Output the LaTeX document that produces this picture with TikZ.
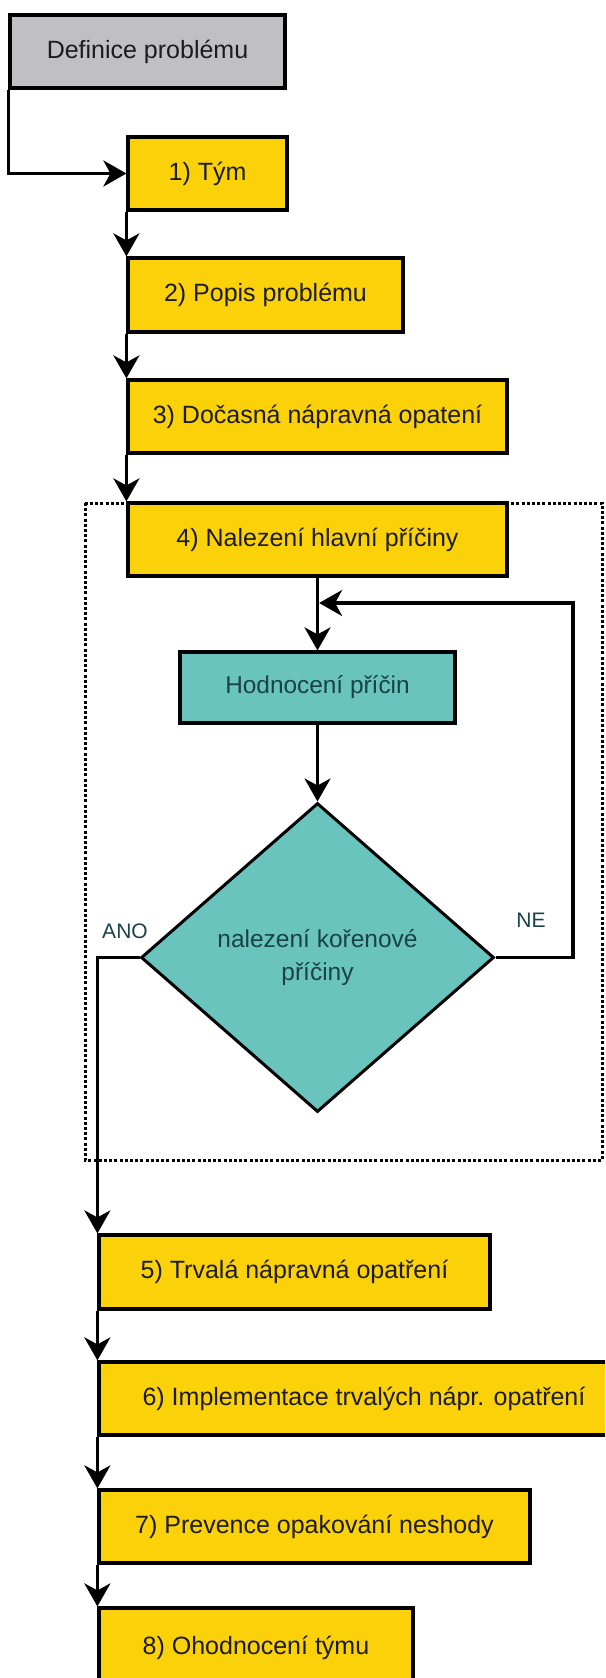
\documentclass[tikz,border=0pt]{standalone}
\usepackage{fontspec}
\setmainfont{Liberation Sans}
\usetikzlibrary{shapes.geometric,arrows.meta}
\definecolor{boxyellow}{RGB}{251,209,10}
\definecolor{boxgray}{RGB}{192,191,194}
\definecolor{boxteal}{RGB}{104,196,188}
\definecolor{inktext}{RGB}{28,28,28}
\definecolor{tealtext}{RGB}{26,66,72}
\begin{document}
\begin{tikzpicture}[x=1pt,y=-1pt,
  stepbox/.style={rectangle, draw=black, line width=3.2pt, fill=boxyellow,
    inner sep=0pt, text=inktext, font=\fontsize{25}{30}\selectfont},
  startbox/.style={stepbox, fill=boxgray},
  evalbox/.style={stepbox, fill=boxteal, text=tealtext,
    font=\fontsize{24.4}{29}\selectfont},
  decision/.style={diamond, draw=black, line width=3pt, fill=boxteal,
    inner sep=0pt, text=tealtext, align=center,
    font=\fontsize{24.5}{33}\selectfont},
  flow/.style={draw=black, line width=3.2pt,
    -{Stealth[length=23pt,width=26pt,inset=7pt]}},
  branch/.style={text=tealtext, font=\fontsize{21}{25}\selectfont},
  phaseframe/.style={draw=black, line width=3pt, dash pattern=on 3pt off 2.2pt}]

\useasboundingbox (0,0) rectangle (605,1678);
\fill[white] (0,0) rectangle (605,1678);
\clip (0,0) rectangle (605,1678);

% frame around phase 4
\draw[phaseframe] (85,503) rectangle (602,1160);

% boxes
\node[startbox, minimum width=275pt, minimum height=73pt] (def) at (147.5,51.5) {Definice problému};
\node[stepbox, minimum width=159pt, minimum height=73pt] (tym) at (207.5,173.5) {1) Tým};
\node[stepbox, minimum width=275pt, minimum height=74pt] (p2) at (265.5,295) {2) Popis problému};
\node[stepbox, minimum width=379pt, minimum height=73pt] (p3) at (317.5,416.5) {3) Dočasná nápravná opatení};
\node[stepbox, minimum width=379pt, minimum height=73pt] (p4) at (317.5,539.5) {4) Nalezení hlavní příčiny};
\node[evalbox, minimum width=275pt, minimum height=71pt] (hod) at (317.5,687.5) {Hodnocení příčin};
\node[decision, minimum width=353pt, minimum height=309pt] (dia) at (317.5,957.5) {nalezení kořenové\\příčiny};
\node[stepbox, minimum width=391pt, minimum height=74pt] (p5) at (294.5,1272) {5) Trvalá nápravná opatření};
\node[stepbox, minimum width=530pt, minimum height=73pt] (p6) at (364,1398.5) {6) Implementace trvalých nápr. opatření};
\node[stepbox, minimum width=431pt, minimum height=73pt] (p7) at (314.5,1526.5) {7) Prevence opakování neshody};
\node[stepbox, minimum width=314pt, minimum height=80pt] (p8) at (256,1648) {8) Ohodnocení týmu};

% branch labels
\node[branch] (ano) at (125,931) {ANO};
\node[branch] (ne) at (531,920) {NE};

% bend point of the loop back
\coordinate (loopR) at (573,603);

% connectors
\draw[flow] (def.south west) -- (def.south west |- tym.west) -- (tym.west);
\draw[flow] (tym.south west) -- (p2.north west);
\draw[flow] (p2.south west) -- (p3.north west);
\draw[flow] (p3.south west) -- (p4.north west);
\draw[flow] (p4.south) -- (hod.north);
\draw[flow] (hod.south) -- (dia.north);
\draw[flow, shorten >=1.6pt] (dia.east) -| (loopR) -- (loopR -| p4.south);
\draw[flow] (dia.west) -- (dia.west -| p5.north west) -- (p5.north west);
\draw[flow] (p5.south west) -- (p6.north west);
\draw[flow] (p6.south west) -- (p7.north west);
\draw[flow] (p7.south west) -- (p8.north west);
\end{tikzpicture}
\end{document}
